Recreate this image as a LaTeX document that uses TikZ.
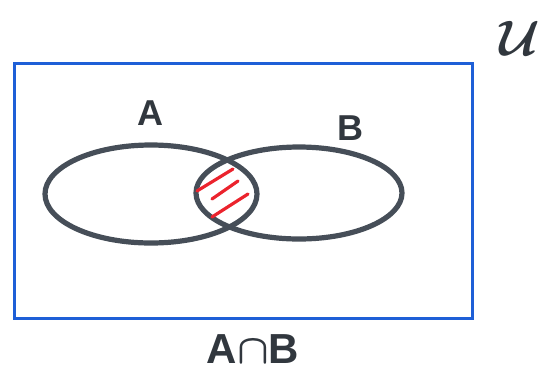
\documentclass[tikz,border=0pt]{standalone}
\usepackage{fontspec}
\setmainfont{Liberation Sans}
\usetikzlibrary{shapes.geometric}
\definecolor{markerblue}{RGB}{30,95,215}
\definecolor{markergray}{RGB}{70,78,88}
\definecolor{markerred}{RGB}{235,35,45}
\tikzset{
  universe/.style={rectangle, draw=markerblue, line width=1.5pt, inner sep=0pt},
  setshape/.style={ellipse, draw=markergray, line width=2.6pt, inner sep=0pt},
  setlabel/.style={font=\fontsize{18}{20}\selectfont\bfseries\boldmath, text=markergray!70!black},
  hatch/.style={draw=markerred, line width=1.6pt, line cap=round},
}

\begin{document}
\begin{tikzpicture}[x=0.5pt, y=-0.5pt]
\useasboundingbox (0,0) rectangle (552,371);
% universe
\node[universe, minimum width=229pt, minimum height=127.5pt] (univ) at (243,190.5) {};
\node[setlabel, font=\fontsize{24}{26}\selectfont\boldmath] (ulabel) at (520,38) {$\mathcal{U}$};
% the two sets
\node[setshape, minimum width=106pt, minimum height=49pt] (setA) at (151,194) {};
\node[setshape, minimum width=103pt, minimum height=46pt] (setB) at (299,193) {};
\node[setlabel] (labA) at (150,113) {A};
\node[setlabel] (labB) at (350,128) {B};
% shaded intersection
\draw[hatch] (197,191) -- (233,169);
\draw[hatch] (212,199) -- (238,181);
\draw[hatch] (212,217) -- (248,194);
\node[setlabel, font=\fontsize{21}{24}\selectfont\bfseries\boldmath] (caption) at (253,349) {A$\cap$B};
\end{tikzpicture}
\end{document}
